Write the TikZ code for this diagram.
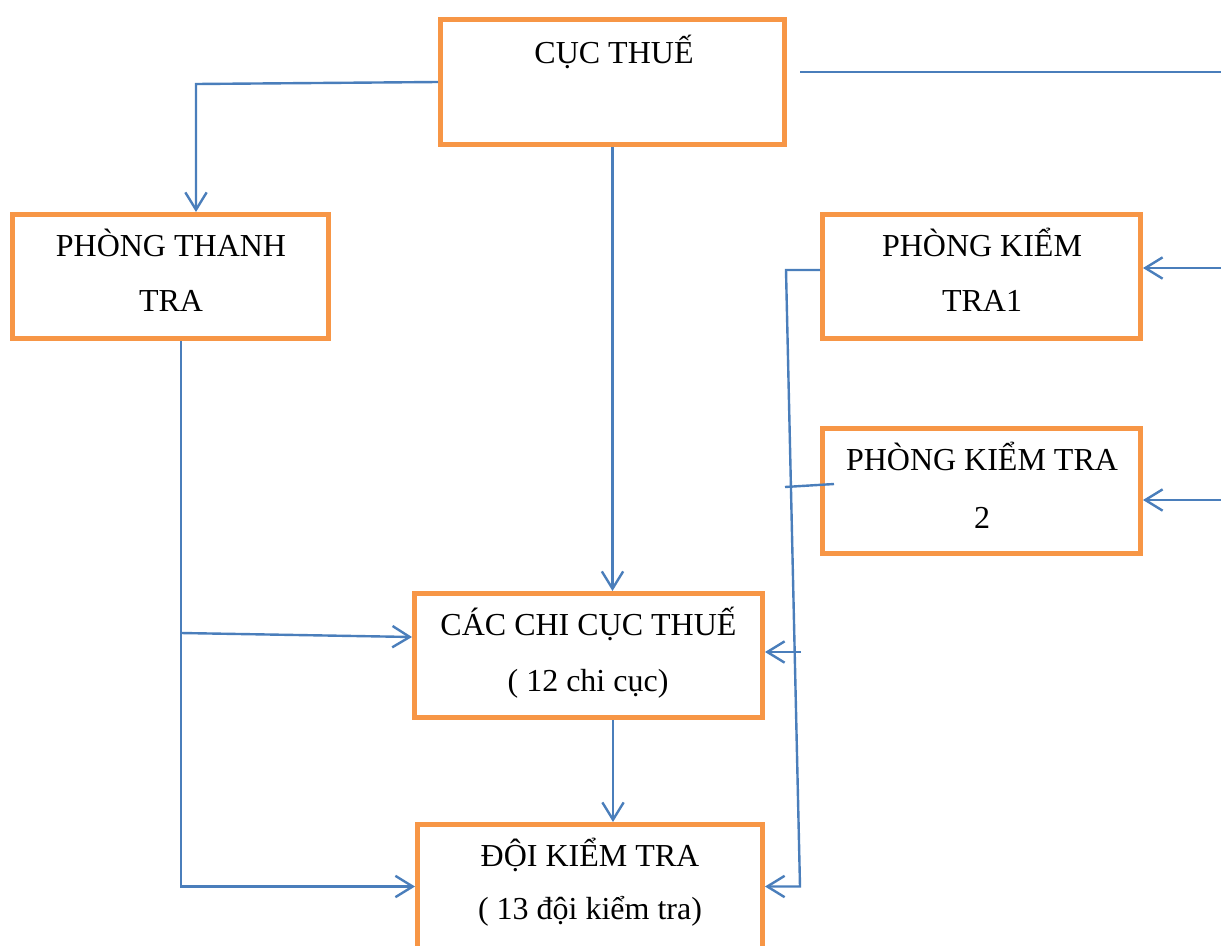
\documentclass[tikz,border=0pt]{standalone}
\usepackage{fontspec}
\setmainfont{Liberation Serif}
\usetikzlibrary{arrows.meta}
\definecolor{boxorange}{HTML}{F79646}
\definecolor{linkblue}{HTML}{4A7EBB}
\begin{document}
\begin{tikzpicture}[x=0.75pt,y=-0.75pt,
  box/.style 2 args={draw=boxorange,line width=3.75pt,inner sep=0pt,fill=none,
    minimum width={#1*0.75pt},minimum height={#2*0.75pt}},
  txt/.style={anchor=base,inner sep=0pt,font=\fontsize{24}{24}\selectfont},
  link/.style={draw=linkblue,line width=1.8pt},
  arr/.style={link,-{Straight Barb[length=13pt,width=16pt]}}]
\useasboundingbox (0,0) rectangle (1221,946);
\clip (0,0) rectangle (1221,946);
% boxes
\node[box={344}{125}] (cuc) at (612.5,82) {};
\node[box={316}{124}] (tt) at (170.5,276.5) {};
\node[box={318}{124}] (kt1) at (981.5,276.5) {};
\node[box={318}{125}] (kt2) at (981.5,491) {};
\node[box={348}{124}] (cc) at (588.5,655.5) {};
\node[box={345}{124}] (doi) at (590,886.5) {};
% texts
\node[txt] (cucT) at (614,63) {CỤC THUẾ};
\node[txt] (ttA) at (171,256) {PHÒNG THANH};
\node[txt] (ttB) at (171,311) {TRA};
\node[txt] (kt1A) at (982,256) {PHÒNG KIỂM};
\node[txt] (kt1B) at (982,311) {TRA1};
\node[txt] (kt2A) at (982,470) {PHÒNG KIỂM TRA};
\node[txt] (kt2B) at (982,528) {2};
\node[txt] (ccA) at (588.5,635) {CÁC CHI CỤC THUẾ};
\node[txt] (ccB) at (588,691) {( 12 chi cục)};
\node[txt] (doiA) at (590,866) {ĐỘI KIỂM TRA};
\node[txt] (doiB) at (590,919) {( 13 đội kiểm tra)};
% free ends
\coordinate (topA) at (800,72);
\coordinate (topB) at (1221,72);
\coordinate (r1) at (1221,268);
\coordinate (r2) at (1221,500);
\coordinate (ttBot) at (181,341);
\coordinate (ttBend) at (181,886.5);
\coordinate (ttMid) at (181,633);
\coordinate (ktBend) at (786,270);
\coordinate (ktLow) at (800,886.5);
\coordinate (ktMid) at (801,652);
\coordinate (kt2a) at (785,487);
\coordinate (kt2b) at (834,484);
% connectors
\draw[arr] (cuc.west) -- (196,84) -- (196,0 |- tt.north);
\draw[arr] (cuc.south) -- (cuc.south |- cc.north);
\draw[link] (topA) -- (topB);
\draw[arr] (r1) -- (r1 -| kt1.east);
\draw[arr] (r2) -- (r2 -| kt2.east);
\draw[arr] (ttBot) -- (ttBend) -- (doi.west);
\draw[arr] (ttMid) -- (cc.west |- 0,637);
\draw[arr] (kt1.west |- ktBend) -- (ktBend) -- (ktLow) -- (doi.east);
\draw[arr] (ktMid) -- (ktMid -| cc.east);
\draw[link] (kt2a) -- (kt2b);
\draw[arr] (613,0 |- cc.south) -- (613,0 |- doi.north);
\end{tikzpicture}
\end{document}
